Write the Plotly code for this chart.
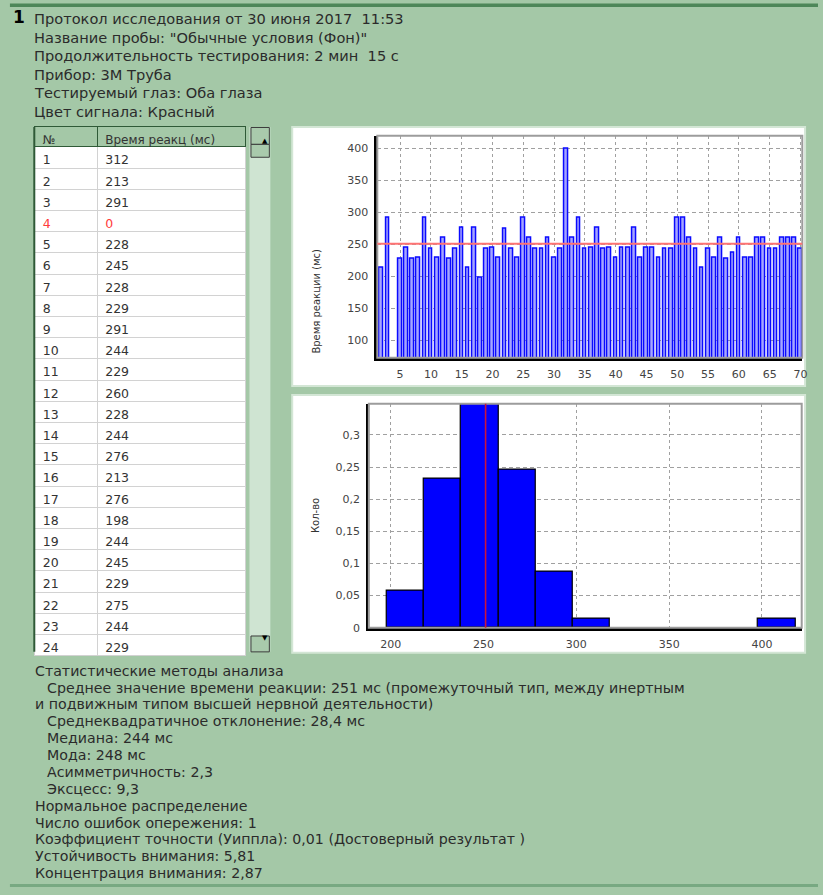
import numpy as np
import plotly.graph_objects as go

# ---------------- data ----------------
trial_no = list(range(1, 71))
reaction_ms = [312, 213, 291, 0, 228, 245, 228, 229, 291, 244,
               229, 260, 228, 244, 276, 213, 276, 198, 244, 245,
               229, 275, 244, 229, 291, 260, 244, 244, 260, 229,
               244, 400, 260, 291, 244, 245, 276, 244, 245, 229,
               245, 245, 276, 229, 245, 245, 229, 244, 244, 291,
               291, 260, 244, 213, 244, 229, 260, 228, 237, 260,
               229, 229, 260, 260, 244, 244, 260, 260, 260, 244]
table_visible_rows = 24
table_header = ["№", "Время реакц (мс)"]
bar_xticks = list(range(5, 71, 5))
bar_yticks = list(range(100, 401, 50))
hist_xticks = list(range(200, 401, 50))
hist_yticks = [0, 0.05, 0.1, 0.15, 0.2, 0.25, 0.3]

header_lines = [
    "Протокол исследования от 30 июня 2017  11:53",
    "Название пробы: \"Обычные условия (Фон)\"",
    "Продолжительность тестирования: 2 мин  15 с",
    "Прибор: 3М Труба",
    "Тестируемый глаз: Оба глаза",
    "Цвет сигнала: Красный",
]
stats_lines = [
    ("Статистические методы анализа", 0),
    ("Среднее значение времени реакции: 251 мс (промежуточный тип, между инертным", 1),
    ("и подвижным типом высшей нервной деятельности)", 0),
    ("Среднеквадратичное отклонение: 28,4 мс", 1),
    ("Медиана: 244 мс", 1),
    ("Мода: 248 мс", 1),
    ("Асимметричность: 2,3", 1),
    ("Эксцесс: 9,3", 1),
    ("Нормальное распределение", 0),
    ("Число ошибок опережения: 1", 0),
    ("Коэффициент точности (Уиппла): 0,01 (Достоверный результат )", 0),
    ("Устойчивость внимания: 5,81", 0),
    ("Концентрация внимания: 2,87", 0),
]

valid_ms = [v for v in reaction_ms if v > 0]
mean_ms = float(np.mean(valid_ms))

# ---------------- layout helpers ----------------
W, H = 823, 895
FONT = "DejaVu Sans"
BG = "#a4c8a7"
TXT = "#2b2b2b"


def px(x):
    return x / W


def py(y):
    return 1 - y / H


fig = go.Figure()

# table
row_colors = ["#ff3b3b" if v == 0 else "#333333" for v in reaction_ms[:table_visible_rows]]
fig.add_trace(go.Table(
    domain=dict(x=[px(35), px(248)], y=[py(662), py(128)]),
    columnwidth=[63, 150],
    header=dict(values=table_header, height=20, align="left",
                fill_color=BG, line=dict(color="#2f5a37", width=1),
                font=dict(family=FONT, size=12, color="#333333")),
    cells=dict(values=[trial_no[:table_visible_rows], reaction_ms[:table_visible_rows]],
               height=21.2, align="left", fill_color="white",
               line=dict(color="#d2d2d2", width=1),
               font=dict(family=FONT, size=12.5, color=[row_colors, row_colors])),
))

# bar chart of reaction times
fig.add_trace(go.Bar(
    x=trial_no, y=reaction_ms, width=0.6,
    marker=dict(color="#a6a6ff", line=dict(color="#0a0aff", width=1.5)),
    xaxis="x", yaxis="y", hoverinfo="skip",
))

# histogram
fig.add_trace(go.Histogram(
    x=valid_ms, xbins=dict(start=198, end=418, size=20), histnorm="probability",
    marker=dict(color="#0000ff", line=dict(color="#000000", width=1.2)),
    xaxis="x2", yaxis="y2", hoverinfo="skip",
))

axis_common = dict(showgrid=True, gridcolor="#a0a0a0", gridwidth=1,
                   zeroline=False, showline=True, linecolor="#000000", linewidth=2.5,
                   ticks="outside", ticklen=4, tickcolor="rgba(0,0,0,0)",
                   tickfont=dict(family=FONT, size=11, color="#444444"),
                   fixedrange=True)

fig.update_layout(
    width=W, height=H, margin=dict(l=0, r=0, t=0, b=0),
    paper_bgcolor=BG, plot_bgcolor="white", showlegend=False,
    separators=", ", bargap=0,
    xaxis=dict(domain=[px(379.6), px(807.2)], range=[1.3, 70.3],
               tickmode="array", tickvals=bar_xticks, griddash="dot",
               anchor="y", **axis_common),
    yaxis=dict(domain=[py(360.6), py(136.8)], range=[72.7, 420],
               tickmode="array", tickvals=bar_yticks, griddash="4px,3px",
               anchor="x", **axis_common),
    xaxis2=dict(domain=[px(371.1), px(806.6)], range=[188.2, 421.4],
                tickmode="array", tickvals=hist_xticks, griddash="dot",
                anchor="y2", **axis_common),
    yaxis2=dict(domain=[py(632.7), py(406.9)], range=[0, 0.3485],
                tickmode="array", tickvals=hist_yticks, griddash="4px,3px",
                anchor="x2", **axis_common),
)

shapes = []
# window borders
shapes.append(dict(type="rect", xref="paper", yref="paper", x0=px(10), x1=px(823),
                   y0=py(7), y1=py(3.5), fillcolor="#4d8759", line=dict(width=0), layer="below"))
shapes.append(dict(type="rect", xref="paper", yref="paper", x0=px(10), x1=px(823),
                   y0=py(894), y1=py(891), fillcolor="#78a982", line=dict(width=0), layer="below"))
# chart panels
for (y0, y1) in [(128, 389), (398, 658)]:
    shapes.append(dict(type="rect", xref="paper", yref="paper", x0=px(294), x1=px(810),
                       y0=py(y1), y1=py(y0), fillcolor="white",
                       line=dict(color="#d3e6d5", width=2), layer="below"))
# plot frames (grey top / right)
for xr, yr in [("x", "y"), ("x2", "y2")]:
    shapes.append(dict(type="rect", xref=f"{xr} domain", yref=f"{yr} domain",
                       x0=0, x1=1, y0=0, y1=1, line=dict(color="#9c9c9c", width=2),
                       layer="above"))
# mean lines
shapes.append(dict(type="line", xref="x domain", yref="y", x0=0, x1=1,
                   y0=mean_ms, y1=mean_ms, line=dict(color="#ff7373", width=2), layer="above"))
shapes.append(dict(type="line", xref="x2", yref="y2 domain", x0=mean_ms, x1=mean_ms,
                   y0=0, y1=1, line=dict(color="#c8143c", width=1.6), layer="above"))
# table left dark border
shapes.append(dict(type="line", xref="paper", yref="paper", x0=px(34.5), x1=px(34.5),
                   y0=py(657), y1=py(128), line=dict(color="#2f5a37", width=2)))
# scrollbar
shapes.append(dict(type="rect", xref="paper", yref="paper", x0=px(251), x1=px(272),
                   y0=py(657), y1=py(128), fillcolor="#cfe4d2", line=dict(width=0)))
for (y0, y1) in [(128.5, 145.5), (145.5, 158.5), (641, 657)]:
    shapes.append(dict(type="rect", xref="paper", yref="paper", x0=px(252.5), x1=px(271),
                       y0=py(y1), y1=py(y0), fillcolor="#a9caac",
                       line=dict(color="#3c3c3c", width=1)))
fig.update_layout(shapes=shapes)

# arrows of scrollbar (as text glyphs)
ann = []
ann.append(dict(x=px(261.7), y=py(136.5), xref="paper", yref="paper", text="▲",
                showarrow=False, font=dict(family=FONT, size=7, color="#000000")))
ann.append(dict(x=px(261.7), y=py(649), xref="paper", yref="paper", text="▼",
                showarrow=False, font=dict(family=FONT, size=7, color="#000000")))

# header text
ann.append(dict(x=px(11), y=py(17), xref="paper", yref="paper", text="<b>1</b>",
                showarrow=False, xanchor="left", yanchor="middle",
                font=dict(family=FONT, size=17, color="#000000")))
for i, line in enumerate(header_lines):
    ann.append(dict(x=px(32), y=py(19 + i * 18.6), xref="paper", yref="paper", text=line,
                    showarrow=False, xanchor="left", yanchor="middle",
                    font=dict(family=FONT, size=14.6, color=TXT)))
# stats text
for i, (line, indent) in enumerate(stats_lines):
    ann.append(dict(x=px(33 + 12 * indent), y=py(676 + i * 17), xref="paper", yref="paper",
                    text=line, showarrow=False, xanchor="left", yanchor="middle",
                    font=dict(family=FONT, size=14.2, color=TXT)))
# axis titles
ann.append(dict(x=px(318), y=py(249), xref="paper", yref="paper", text="Время реакции (мс)",
                textangle=-90, showarrow=False, font=dict(family=FONT, size=10, color="#333333")))
ann.append(dict(x=px(318), y=py(520), xref="paper", yref="paper", text="Кол-во",
                textangle=-90, showarrow=False, font=dict(family=FONT, size=10, color="#333333")))
fig.update_layout(annotations=ann)

fig.write_html(
    "out.html",
    config={"displayModeBar": False, "staticPlot": False},
    post_script=("document.body.style.margin='0';"
                 "document.body.style.padding='0';"
                 "document.body.style.background='" + BG + "';"),
)
